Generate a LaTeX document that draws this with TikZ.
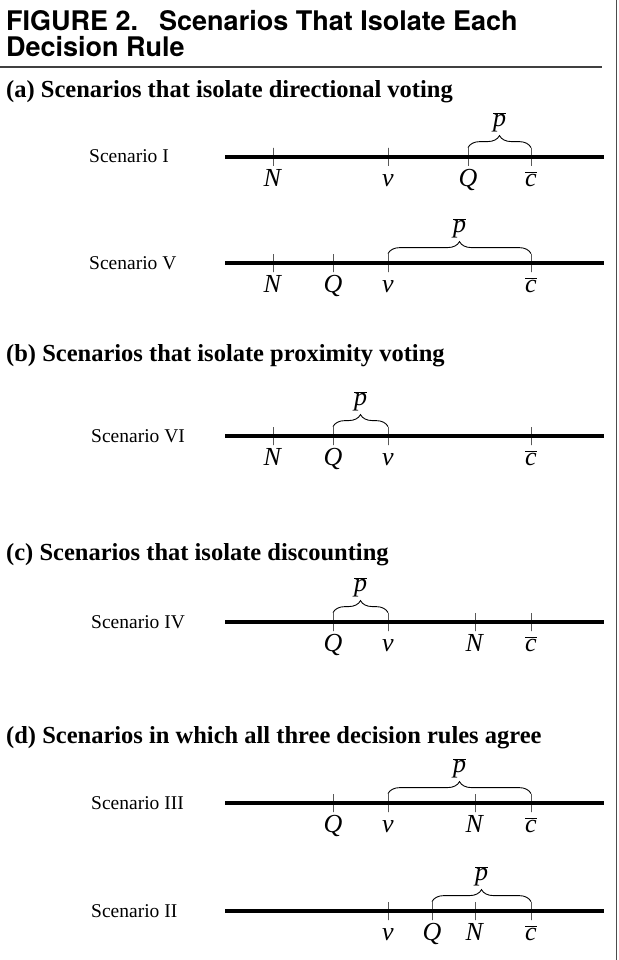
\documentclass[tikz,border=0pt]{standalone}
\usepackage{fontspec}
\setmainfont{Liberation Serif}
\newfontfamily\headfont{TeX Gyre Heros}
\usetikzlibrary{decorations.pathreplacing}

\begin{document}
\begin{tikzpicture}[
    x=1pt, y=-1pt,
    figtitle/.style={anchor=base west, inner sep=0pt, font=\headfont\bfseries\fontsize{27}{27}\selectfont},
    part/.style={anchor=base west, inner sep=0pt, font=\bfseries\fontsize{24.5}{24.5}\selectfont},
    scen/.style={anchor=base west, inner sep=0pt, font=\fontsize{19.5}{19.5}\selectfont},
    axis/.style={line width=3.2pt},
    tick/.style={draw, line width=0.8pt, minimum width=0pt, minimum height=18pt, inner sep=0pt},
    lab/.style={anchor=base, inner sep=0pt, font=\fontsize{26}{26}\selectfont},
    pbrace/.style={decorate, decoration={brace, amplitude=12pt}, line width=0.9pt},
    pbar/.style={midway, above=15pt, inner sep=0pt, font=\fontsize{26}{26}\selectfont}
]
\useasboundingbox (0,0) rectangle (618,960);

\node[figtitle] (title) at (6,31) {FIGURE 2.\hspace{21pt}Scenarios That Isolate Each};
\node[figtitle] (title2) at (6,57) {Decision Rule};
\coordinate (ruleL) at (0,67);
\coordinate (ruleR) at (602,67);
\draw[line width=2.2pt, black!75] (ruleL) -- (ruleR);
\draw[line width=1.5pt, black!70] (616.5,0) -- (616.5,960);

% (a)
\node[part] (pa) at (6,98) {(a) Scenarios that isolate directional voting};

\node[scen] (sI) at (89,163) {Scenario I};
\coordinate (sI-a) at (225,157);
\coordinate (sI-b) at (604,157);
\draw[axis] (sI-a) -- (sI-b);
\node[tick] (sI-N) at (273,157) {};
\node[tick] (sI-v) at (388,157) {};
\node[tick] (sI-Q) at (468,157) {};
\node[tick] (sI-c) at (531,157) {};
\node[lab] (sI-Nl) at (273,186) {\textit{N}};
\node[lab] (sI-vl) at (388,186) {\textit{v}};
\node[lab] (sI-Ql) at (468,186) {\textit{Q}};
\node[lab] (sI-cl) at (531,186) {$\overline{\textit{c}}$};
\draw[pbrace] (sI-Q.north) -- (sI-c.north) node[pbar] (sI-p) {$\overline{\textit{p}}$};

\node[scen] (sV) at (89,269) {Scenario V};
\coordinate (sV-a) at (225,263);
\coordinate (sV-b) at (604,263);
\draw[axis] (sV-a) -- (sV-b);
\node[tick] (sV-N) at (273,263) {};
\node[tick] (sV-Q) at (333,263) {};
\node[tick] (sV-v) at (388,263) {};
\node[tick] (sV-c) at (531,263) {};
\node[lab] (sV-Nl) at (273,292) {\textit{N}};
\node[lab] (sV-Ql) at (333,292) {\textit{Q}};
\node[lab] (sV-vl) at (388,292) {\textit{v}};
\node[lab] (sV-cl) at (531,292) {$\overline{\textit{c}}$};
\draw[pbrace] (sV-v.north) -- (sV-c.north) node[pbar] (sV-p) {$\overline{\textit{p}}$};

% (b)
\node[part] (pb) at (6,361) {(b) Scenarios that isolate proximity voting};

\node[scen] (sVI) at (91,442) {Scenario VI};
\coordinate (sVI-a) at (225,436);
\coordinate (sVI-b) at (604,436);
\draw[axis] (sVI-a) -- (sVI-b);
\node[tick] (sVI-N) at (273,436) {};
\node[tick] (sVI-Q) at (333,436) {};
\node[tick] (sVI-v) at (388,436) {};
\node[tick] (sVI-c) at (531,436) {};
\node[lab] (sVI-Nl) at (273,465) {\textit{N}};
\node[lab] (sVI-Ql) at (333,465) {\textit{Q}};
\node[lab] (sVI-vl) at (388,465) {\textit{v}};
\node[lab] (sVI-cl) at (531,465) {$\overline{\textit{c}}$};
\draw[pbrace] (sVI-Q.north) -- (sVI-v.north) node[pbar] (sVI-p) {$\overline{\textit{p}}$};

% (c)
\node[part] (pc) at (6,560) {(c) Scenarios that isolate discounting};

\node[scen] (sIV) at (91,628) {Scenario IV};
\coordinate (sIV-a) at (225,622);
\coordinate (sIV-b) at (604,622);
\draw[axis] (sIV-a) -- (sIV-b);
\node[tick] (sIV-Q) at (333,622) {};
\node[tick] (sIV-v) at (388,622) {};
\node[tick] (sIV-N) at (475,622) {};
\node[tick] (sIV-c) at (531,622) {};
\node[lab] (sIV-Ql) at (333,651) {\textit{Q}};
\node[lab] (sIV-vl) at (388,651) {\textit{v}};
\node[lab] (sIV-Nl) at (475,651) {\textit{N}};
\node[lab] (sIV-cl) at (531,651) {$\overline{\textit{c}}$};
\draw[pbrace] (sIV-Q.north) -- (sIV-v.north) node[pbar] (sIV-p) {$\overline{\textit{p}}$};

% (d)
\node[part] (pd) at (6,743) {(d) Scenarios in which all three decision rules agree};

\node[scen] (sIII) at (91,809) {Scenario III};
\coordinate (sIII-a) at (225,803);
\coordinate (sIII-b) at (604,803);
\draw[axis] (sIII-a) -- (sIII-b);
\node[tick] (sIII-Q) at (333,803) {};
\node[tick] (sIII-v) at (388,803) {};
\node[tick] (sIII-N) at (475,803) {};
\node[tick] (sIII-c) at (531,803) {};
\node[lab] (sIII-Ql) at (333,832) {\textit{Q}};
\node[lab] (sIII-vl) at (388,832) {\textit{v}};
\node[lab] (sIII-Nl) at (475,832) {\textit{N}};
\node[lab] (sIII-cl) at (531,832) {$\overline{\textit{c}}$};
\draw[pbrace] (sIII-v.north) -- (sIII-c.north) node[pbar] (sIII-p) {$\overline{\textit{p}}$};

\node[scen] (sII) at (91,917) {Scenario II};
\coordinate (sII-a) at (225,911);
\coordinate (sII-b) at (604,911);
\draw[axis] (sII-a) -- (sII-b);
\node[tick] (sII-v) at (388,911) {};
\node[tick] (sII-Q) at (432,911) {};
\node[tick] (sII-N) at (475,911) {};
\node[tick] (sII-c) at (531,911) {};
\node[lab] (sII-vl) at (388,940) {\textit{v}};
\node[lab] (sII-Ql) at (432,940) {\textit{Q}};
\node[lab] (sII-Nl) at (475,940) {\textit{N}};
\node[lab] (sII-cl) at (531,940) {$\overline{\textit{c}}$};
\draw[pbrace] (sII-Q.north) -- (sII-c.north) node[pbar] (sII-p) {$\overline{\textit{p}}$};

\end{tikzpicture}
\end{document}
